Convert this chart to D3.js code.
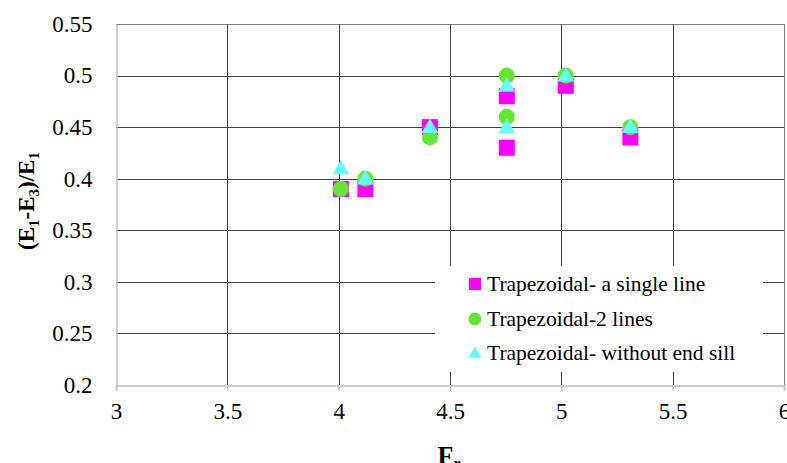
<!DOCTYPE html>
<html><head><meta charset="utf-8">
<script src="https://cdn.jsdelivr.net/npm/d3@7"></script>
<style>body{margin:0;background:#fff}svg{display:block}</style>
</head><body>
<script>
const seriesNames = ["Trapezoidal- a single line", "Trapezoidal-2 lines", "Trapezoidal- without end sill"];
const singleX = [4.01, 4.12, 4.41, 4.755, 4.755, 5.02, 5.31];
const singleY = [0.39, 0.39, 0.45, 0.48, 0.43, 0.49, 0.44];
const twoX = [4.01, 4.12, 4.41, 4.755, 4.755, 5.02, 5.31];
const twoY = [0.39, 0.40, 0.44, 0.50, 0.46, 0.50, 0.45];
const sillX = [4.01, 4.12, 4.41, 4.755, 4.755, 5.02, 5.31];
const sillY = [0.41, 0.40, 0.45, 0.49, 0.45, 0.50, 0.45];
const xTicks = [3, 3.5, 4, 4.5, 5, 5.5, 6];
const yTicks = [0.2, 0.25, 0.3, 0.35, 0.4, 0.45, 0.5, 0.55];
const colors = ["#ff00ff", "#66e632", "#66ffff"];
const FONT = '"Liberation Serif", "Times New Roman", serif';

const W = 787, H = 463;
const L = 116, R = 784, T = 24, B = 385;
const svg = d3.select("body").append("svg").attr("width", W).attr("height", H).style("font-family", FONT);
const x = d3.scaleLinear().domain([3, 6]).range([L, R]);
const y = d3.scaleLinear().domain([0.2, 0.55]).range([B, T]);

// gridlines
const grid = svg.append("g").attr("shape-rendering", "crispEdges");
grid.selectAll("line.h").data(yTicks.filter(d => d > 0.2)).enter().append("line")
  .attr("x1", L).attr("x2", R).attr("y1", d => Math.round(y(d)) + 0.5).attr("y2", d => Math.round(y(d)) + 0.5)
  .attr("stroke", (d) => d === 0.55 ? "#808080" : "#404040").attr("stroke-width", 1);
grid.selectAll("line.v").data(xTicks.filter(d => d > 3)).enter().append("line")
  .attr("y1", T).attr("y2", B).attr("x1", d => Math.round(x(d)) + 0.5).attr("x2", d => Math.round(x(d)) + 0.5)
  .attr("stroke", d => d === 6 ? "#808080" : "#404040").attr("stroke-width", 1);

// axes
const xAxis = d3.axisBottom(x).tickValues(xTicks).tickSize(5).tickFormat(d3.format("")).tickPadding(12);
const gx = svg.append("g").attr("transform", `translate(0,${B + 0.5})`).call(xAxis);
gx.attr("font-family", null);
gx.select(".domain").attr("stroke", "#bfbfbf").attr("stroke-width", 1.5);
gx.selectAll(".tick line").attr("stroke", "#bfbfbf").attr("stroke-width", 1.5);
gx.selectAll("text").attr("font-size", 23).attr("fill", "#000").style("font-family", FONT);

const yAxis = d3.axisLeft(y).tickValues(yTicks).tickSize(0).tickFormat(d3.format("")).tickPadding(24);
const gy = svg.append("g").attr("transform", `translate(${L + 0.5},0)`).call(yAxis);
gy.attr("font-family", null);
gy.select(".domain").attr("stroke", "#bfbfbf").attr("stroke-width", 1.5);
gy.selectAll("text").attr("font-size", 23).attr("fill", "#000").style("font-family", FONT);

// markers
const s = 16;
svg.append("g").selectAll("rect").data(singleX.map((d, i) => [d, singleY[i]])).enter().append("rect")
  .attr("x", d => x(d[0]) - s / 2).attr("y", d => y(d[1]) - s / 2).attr("width", s).attr("height", s)
  .attr("fill", colors[0]);
svg.append("g").selectAll("circle").data(twoX.map((d, i) => [d, twoY[i]])).enter().append("circle")
  .attr("cx", d => x(d[0])).attr("cy", d => y(d[1])).attr("r", 8).attr("fill", colors[1]);
const tri = d3.symbol().type(d3.symbolTriangle).size(120);
svg.append("g").selectAll("path").data(sillX.map((d, i) => [d, sillY[i]])).enter().append("path")
  .attr("d", tri).attr("transform", d => `translate(${x(d[0])},${y(d[1]) + 1})`).attr("fill", colors[2]);

// legend
const lg = svg.append("g");
lg.append("rect").attr("x", 435).attr("y", 266).attr("width", 328).attr("height", 106).attr("fill", "#fff");
const rows = [284, 319, 353];
lg.append("rect").attr("x", 469).attr("y", rows[0] - 6).attr("width", 12).attr("height", 12).attr("fill", colors[0]);
lg.append("circle").attr("cx", 475).attr("cy", rows[1]).attr("r", 6.5).attr("fill", colors[1]);
lg.append("path").attr("d", d3.symbol().type(d3.symbolTriangle).size(75)).attr("transform", `translate(475,${rows[2] + 1})`).attr("fill", colors[2]);
lg.selectAll("text").data(seriesNames).enter().append("text")
  .attr("x", 487).attr("y", (d, i) => rows[i] + 7).attr("font-size", 21.5).attr("fill", "#000")
  .style("font-family", FONT).text(d => d);

// axis titles
const yt = svg.append("text").attr("transform", "translate(34,201) rotate(-90)").attr("text-anchor", "middle")
  .attr("font-size", 23).attr("font-weight", "bold").attr("fill", "#000").style("font-family", FONT);
yt.append("tspan").text("(E");
yt.append("tspan").text("1").attr("font-size", 15).attr("dy", 5);
yt.append("tspan").text("-E").attr("dy", -5);
yt.append("tspan").text("3").attr("font-size", 15).attr("dy", 5);
yt.append("tspan").text(")/E").attr("dy", -5);
yt.append("tspan").text("1").attr("font-size", 15).attr("dy", 5);

const xt = svg.append("text").attr("x", 449).attr("y", 464).attr("text-anchor", "middle")
  .attr("font-size", 26).attr("font-weight", "bold").attr("fill", "#000").style("font-family", FONT);
xt.append("tspan").text("F");
xt.append("tspan").text("r").attr("font-size", 16).attr("dy", 5);
</script>
</body></html>
